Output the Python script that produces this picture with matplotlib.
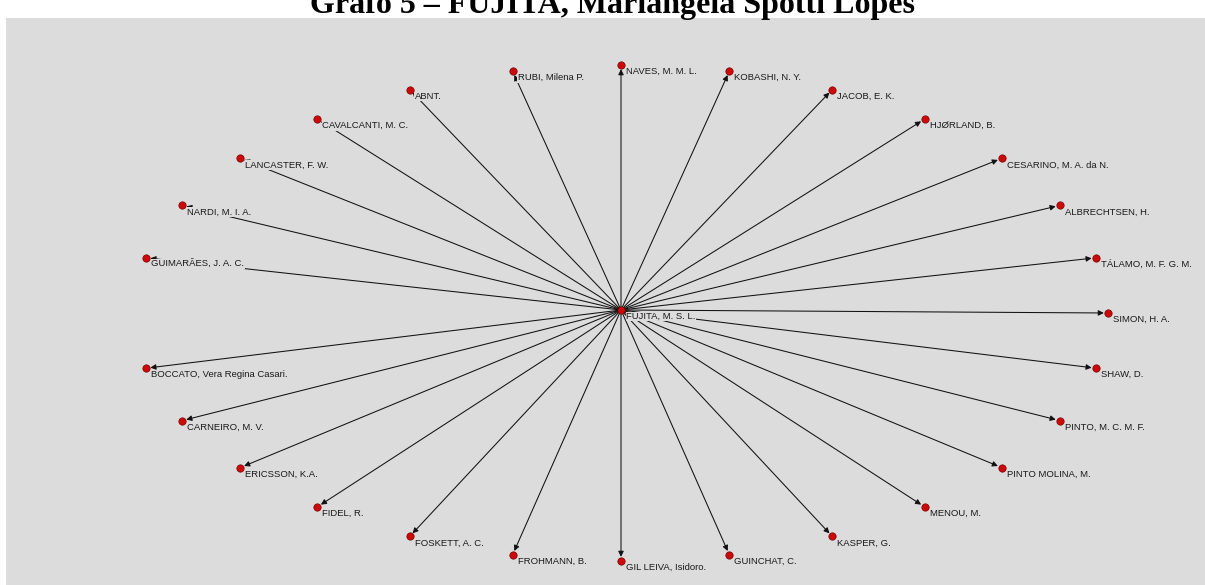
import numpy as np
import matplotlib.pyplot as plt
from matplotlib.patches import Rectangle

OUT_PNG = "out.png"

TITLE = "Grafo 5 – FUJITA, Mariângela Spotti Lopes"

CENTER_NODE = "FUJITA, M. S. L."

# outer nodes in circle-layout slot order (slot 0 = right, counter-clockwise);
# slot 14 belonged to the centre node and stays empty
OUTER_NODES = [
    "SIMON, H. A.", "TÁLAMO, M. F. G. M.", "ALBRECHTSEN, H.",
    "CESARINO, M. A. da N.", "HJØRLAND, B.", "JACOB, E. K.",
    "KOBASHI, N. Y.", "NAVES, M. M. L.", "RUBI, Milena P.", "ABNT.",
    "CAVALCANTI, M. C.", "LANCASTER, F. W.", "NARDI, M. I. A.",
    "GUIMARÃES, J. A. C.", None, "BOCCATO, Vera Regina Casari.",
    "CARNEIRO, M. V.", "ERICSSON, K.A.", "FIDEL, R.", "FOSKETT, A. C.",
    "FROHMANN, B.", "GIL LEIVA, Isidoro.", "GUINCHAT, C.", "KASPER, G.",
    "MENOU, M.", "PINTO MOLINA, M.", "PINTO, M. C. M. F.", "SHAW, D.",
]

# every edge goes from the centre node to an outer node
EDGES = [(CENTER_NODE, n) for n in OUTER_NODES if n is not None]

# layout (pixels of the 1205x585 canvas)
W, H = 1205, 585
CX, CY = 621, 313
RX, RY = 487, 248

BG = "#dcdcdc"
NODE_RED = "#cc0a0a"


def circle_layout():
    pos = {}
    n_slots = len(OUTER_NODES)
    for k, name in enumerate(OUTER_NODES):
        if name is None:
            continue
        ang = 2 * np.pi * k / n_slots
        pos[name] = (CX + RX * np.cos(ang), CY - RY * np.sin(ang))
    pos[CENTER_NODE] = (CX, CY - 3)
    return pos


def main():
    pos = circle_layout()

    fig = plt.figure(figsize=(W / 100, H / 100), dpi=100)
    ax = fig.add_axes([0, 0, 1, 1])
    ax.set_xlim(0, W)
    ax.set_ylim(H, 0)
    ax.axis("off")

    ax.add_patch(Rectangle((6, 18), W - 6, H - 18, facecolor=BG,
                           edgecolor="none", zorder=0))

    # title is clipped by the top edge, as in the source document
    fig.text(613 / W, 1 - 13 / H, TITLE, ha="center", va="baseline",
             fontsize=23, fontweight="bold", family="Liberation Serif")

    for src, dst in EDGES:
        ax.annotate("", xy=pos[dst], xytext=pos[src],
                    arrowprops=dict(arrowstyle="-|>", color="#111111", lw=0.75,
                                    mutation_scale=8, shrinkA=0, shrinkB=3),
                    zorder=1)

    names = list(pos.keys())
    xs = [pos[n][0] for n in names]
    ys = [pos[n][1] for n in names]
    ax.scatter(xs, ys, s=28, color=NODE_RED, edgecolor="#7a0000",
               linewidths=0.5, zorder=3)

    for n in names:
        ax.annotate(n, xy=pos[n], xytext=(5, -2), textcoords="offset pixels",
                    ha="left", va="top", fontsize=6.8,
                    family="Liberation Sans", color="#1a1a1a",
                    bbox=dict(boxstyle="square,pad=0.05", facecolor=BG,
                              edgecolor="none"),
                    zorder=2)

    fig.savefig(OUT_PNG, dpi=100)


if __name__ == "__main__":
    main()
